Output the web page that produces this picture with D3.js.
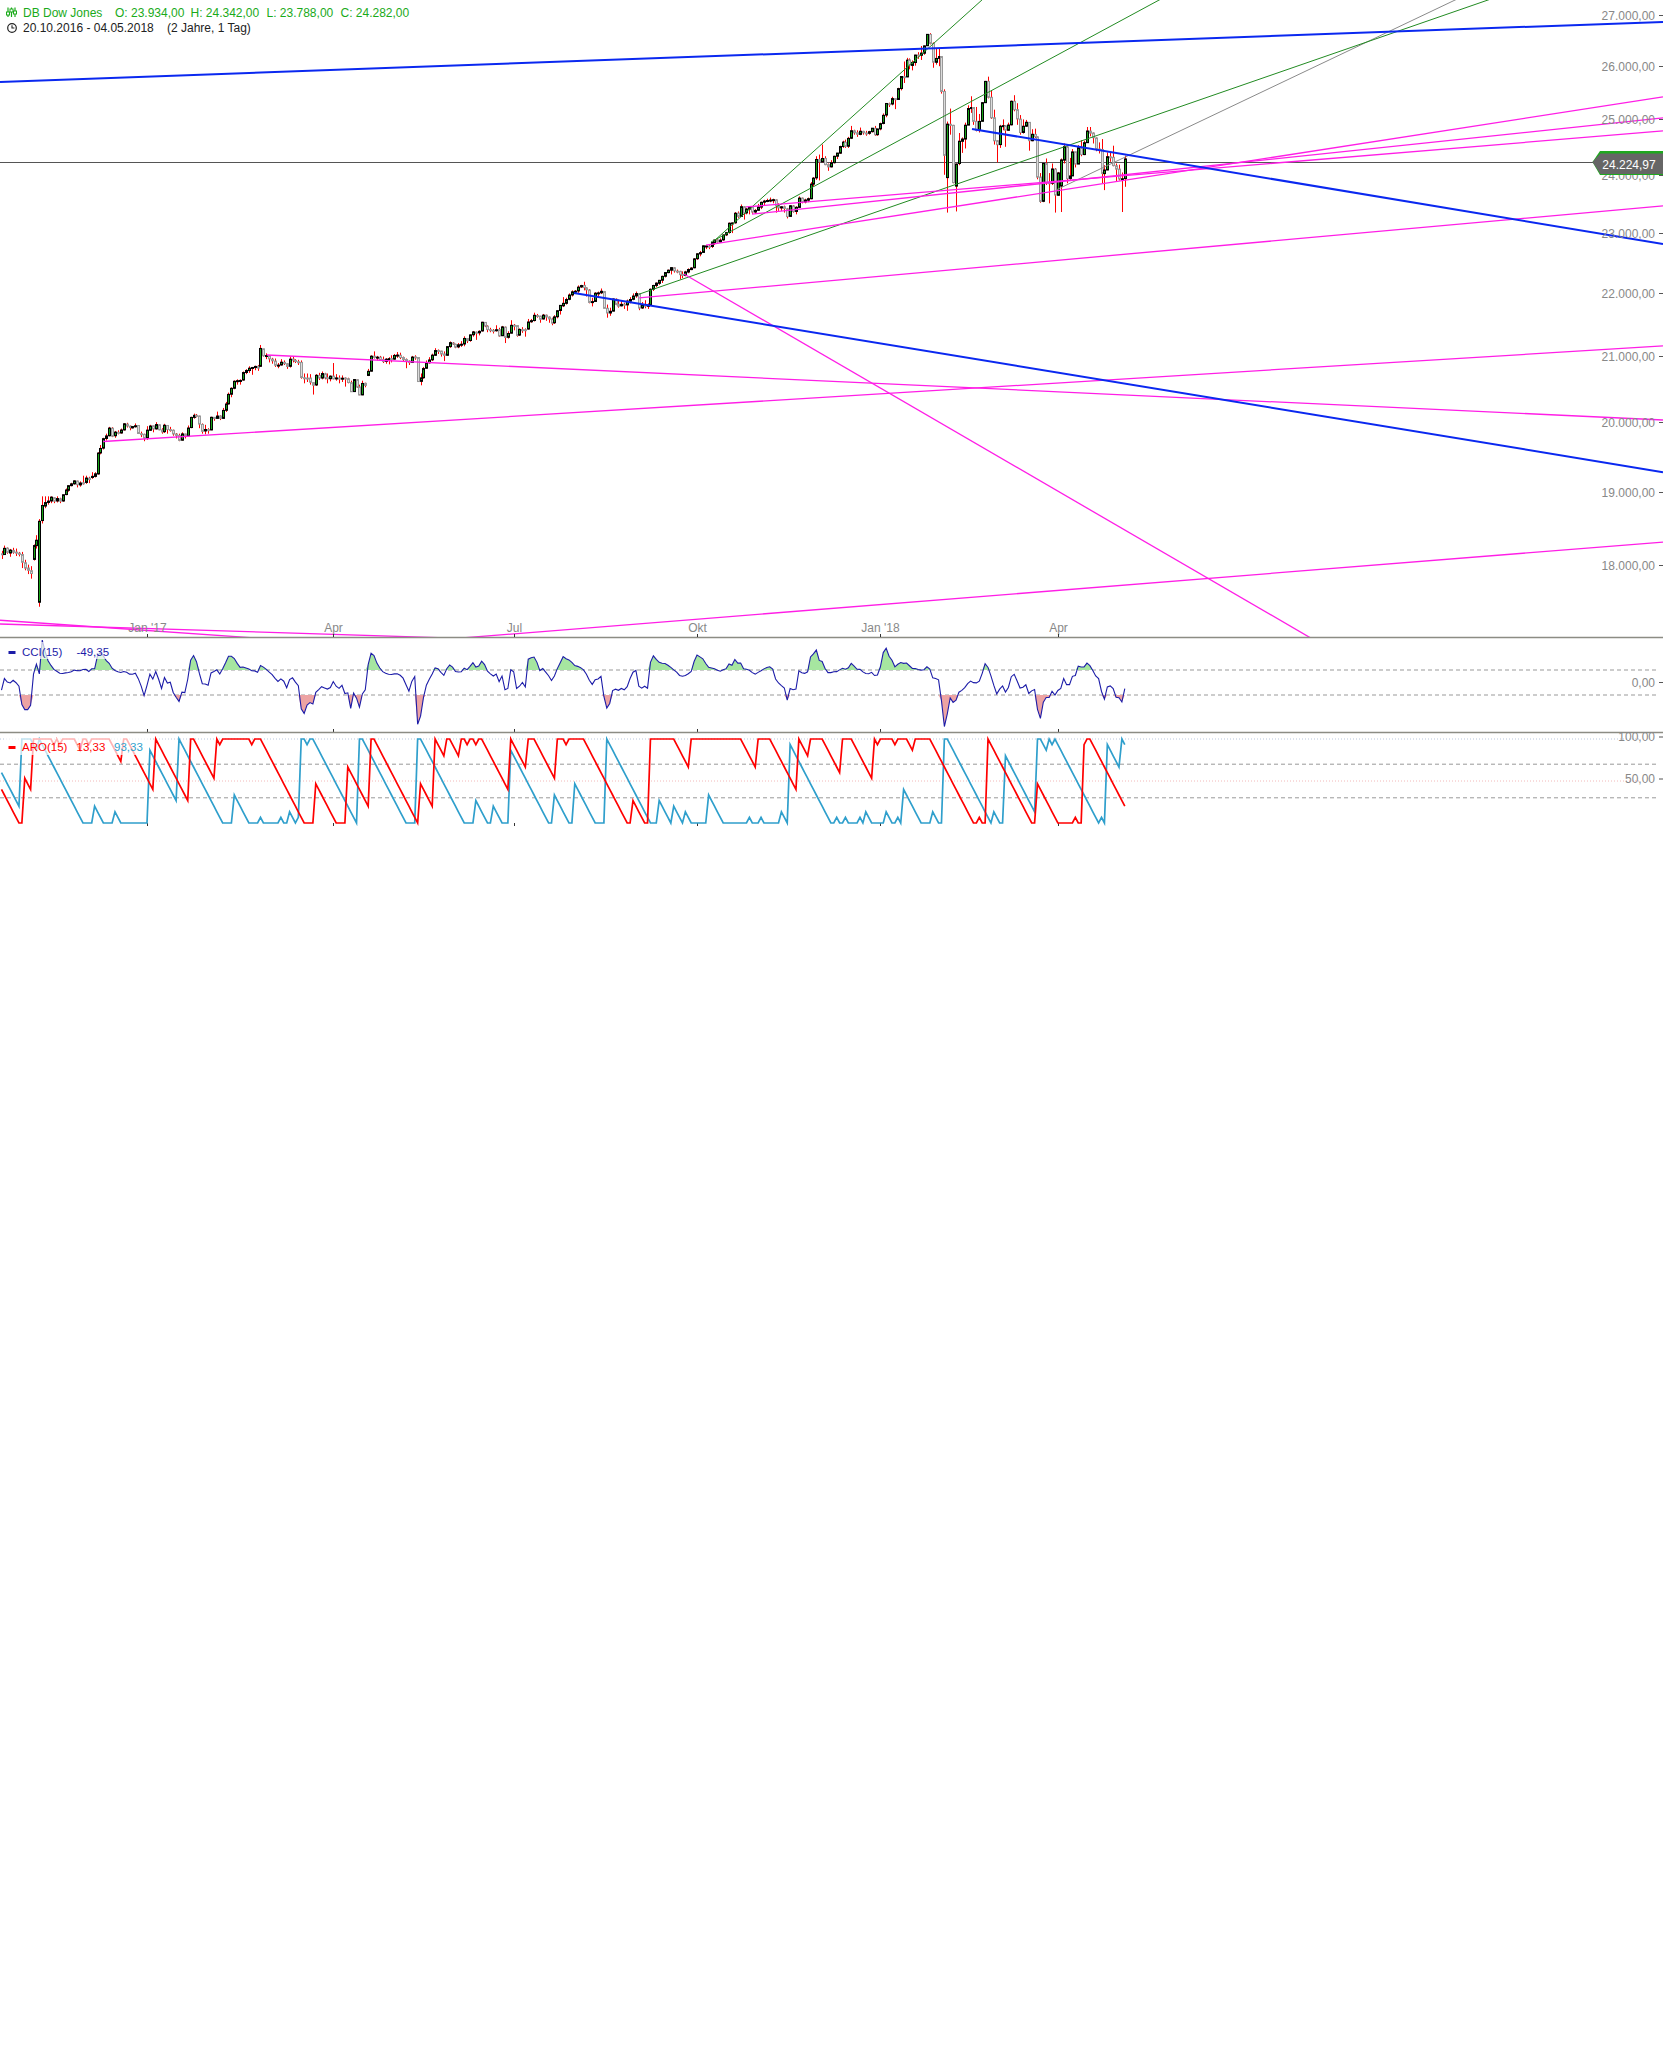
<!DOCTYPE html>
<html>
<head>
<meta charset="utf-8">
<script src="https://cdn.jsdelivr.net/npm/d3@7"></script>
<style>
body { margin: 0; background: #fff; }
svg { display: block; font-family: "Liberation Sans", Arial, sans-serif; }
</style>
</head>
<body>
<svg id="chart" width="1663" height="2048"></svg>
<script>
// DB Dow Jones, daily candles 21.10.2016 - 04.05.2018
var open = [
  18150,18140,18225,18160,18195,18172,18158,
  18140,18030,17960,17925,18075,18259,17513,18600,18800,18850,18870,18915,18870,18900,18870,18960,19020,19085,19110,19150,19095,19125,
  19130,19190,19200,19215,19250,19550,19620,19760,19800,19910,19800,19850,19840,19885,19970,19940,19915,19940,19950,19830,19820,
  19770,19880,19945,19900,19960,19885,19860,19950,19890,19880,19825,19805,19735,19825,19800,19920,20070,20100,20090,19965,
  19870,19890,19885,20070,20055,20090,20055,20175,20270,20415,20505,20610,20620,20630,20745,20775,20810,20820,20840,
  20840,21110,21000,21000,20950,20920,20855,20860,20900,20880,20840,20950,20930,20910,20900,20665,20660,20660,20590,20555,20700,20660,20725,
  20665,20650,20690,20650,20660,20655,20660,20650,20590,20455,20635,20525,20405,20580,20700,20765,20995,20975,20980,
  20945,20915,20950,20960,20950,21005,21010,20975,20945,20920,20900,20985,20975,20610,20665,20810,20895,20940,21010,21085,21075,21030,
  21010,21145,21200,21180,21140,21175,21185,21270,21240,21330,21370,21360,21390,21525,21465,21410,21400,21395,21410,21315,21450,21290,
  21355,21480,21475,21325,21410,21410,21420,21535,21555,21635,21625,21580,21640,21610,21580,21520,21615,21715,21790,21830,
  21895,21965,22015,22030,22095,22120,22080,22045,21845,21860,21995,22000,22020,21750,21675,21705,21895,21815,21790,21815,21805,21865,21895,
  21950,21985,21755,21810,21785,21800,22060,22120,22155,22205,22270,22330,22370,22410,22355,22350,22300,22285,22340,22380,
  22410,22560,22640,22665,22770,22770,22765,22830,22875,22840,22875,22960,23000,23150,23165,23330,23275,23440,23335,23400,23435,23350,
  23380,23435,23520,23540,23550,23560,23560,23460,23420,23440,23405,23275,23455,23360,23430,23590,23525,23555,23580,23835,23945,
  24270,24230,24290,24180,24140,24215,24330,24385,24505,24580,24510,24655,24790,24755,24725,24780,24750,24745,24775,24835,
  24720,24825,24925,25080,25290,25285,25385,25370,25575,25800,25795,26120,26015,26070,26215,26210,26250,26395,26615,26440,26075,
  26150,26185,25520,23950,24910,24890,23800,24200,24600,24640,24895,25200,25220,24965,24800,24965,25310,25710,25410,
  25030,24610,24540,24880,24880,24800,24900,25335,25180,25005,24760,24875,24945,24610,24725,24680,23960,23535,24200,23860,23850,
  24100,23640,23800,24260,24500,23935,23980,24410,24190,24480,24360,24575,24785,24750,24660,24460,24450,24020,24085,24320,24310,
  24160,24100,23925,23934
];
var high = [
  18190,18260,18235,18215,18230,18220,18175,
  18175,18070,18005,17985,18275,18400,18620,18935,18935,18935,18935,18920,18935,18915,18960,19045,19090,19125,19160,19155,19145,19225,
  19225,19210,19275,19275,19560,19665,19770,19830,19930,19925,19870,19880,19905,19985,19990,19950,19940,19980,19955,19860,19830,
  19940,19960,19950,19999,19965,19910,19975,19955,19930,19890,19840,19830,19850,19830,19950,20080,20125,20120,20095,19980,
  19960,19910,20080,20075,20155,20100,20210,20300,20440,20520,20625,20640,20640,20760,20795,20840,20830,20850,20860,
  21170,21110,21040,21010,20970,20960,20890,20950,20930,20890,20990,20990,20950,20940,20930,20730,20730,20720,20600,20720,20740,20760,20740,
  20730,20700,20890,20720,20700,20700,20670,20665,20620,20645,20640,20560,20620,20590,20800,21010,21070,21000,21000,
  20990,20965,20980,21010,21030,21060,21050,20990,20960,20930,21000,21010,20980,20730,20830,20930,20980,21035,21120,21100,21080,21070,
  21150,21225,21215,21190,21200,21230,21305,21275,21335,21390,21380,21400,21535,21530,21480,21440,21420,21480,21440,21470,21460,21385,
  21560,21500,21480,21430,21450,21430,21580,21580,21680,21660,21630,21660,21650,21620,21600,21640,21720,21800,21930,21920,
  21990,22040,22045,22120,22130,22180,22090,22060,21920,22010,22020,22070,22030,21810,21760,21910,21910,21890,21880,21840,21890,21930,21990,
  22020,21990,21850,21880,21830,22070,22130,22170,22210,22280,22340,22380,22420,22420,22380,22360,22350,22360,22400,22420,
  22570,22650,22690,22780,22790,22800,22840,22880,22900,22900,22970,23010,23170,23170,23350,23360,23480,23450,23420,23450,23450,23400,
  23490,23530,23560,23580,23600,23580,23570,23500,23450,23460,23420,23470,23470,23450,23620,23600,23580,23600,23870,23960,24330,
  24360,24540,24330,24200,24260,24340,24390,24520,24610,24630,24680,24880,24810,24800,24850,24790,24790,24790,24840,24880,
  24830,24940,25110,25300,25310,25420,25390,25590,25810,26090,26160,26150,26110,26220,26270,26390,26400,26620,26640,26460,26340,
  26340,26190,25560,24960,25200,24900,24200,24750,24670,24940,25260,25430,25220,25230,25100,25320,25720,25800,25530,
  25180,24620,24900,25000,24890,24940,25350,25450,25300,25080,25000,24990,24950,24820,24830,24690,24030,24210,24290,24030,24200,
  24120,24050,24290,24560,24520,24300,24460,24410,24530,24620,24610,24860,24860,24760,24670,24580,24640,24170,24400,24400,24520,
  24200,24180,24040,24342
];
var low = [
  18080,18135,18150,18110,18150,18120,18115,
  17960,17930,17880,17820,18060,18220,17455,18560,18770,18820,18840,18840,18850,18840,18860,18950,19000,19075,19100,19060,19070,19100,
  19110,19120,19180,19200,19240,19530,19600,19730,19790,19780,19770,19820,19830,19875,19920,19880,19905,19920,19825,19780,19720,
  19740,19870,19850,19890,19880,19830,19840,19830,19860,19800,19760,19720,19730,19760,19790,19910,20050,20070,19910,19830,
  19820,19830,19880,20020,20050,20030,20050,20150,20260,20370,20490,20560,20560,20620,20720,20740,20710,20780,20770,
  20830,20990,20950,20900,20880,20830,20810,20850,20860,20800,20820,20900,20890,20860,20650,20580,20600,20560,20410,20540,20630,20640,20640,
  20580,20610,20640,20620,20580,20600,20530,20580,20450,20450,20510,20400,20400,20520,20690,20760,20960,20930,20930,
  20890,20880,20870,20900,20940,20970,20950,20920,20810,20860,20890,20940,20600,20550,20650,20800,20880,20920,21000,21030,20990,20920,
  21000,21125,21170,21120,21120,21140,21150,21200,21220,21300,21250,21320,21380,21450,21370,21370,21350,21380,21300,21310,21200,21270,
  21350,21400,21300,21310,21360,21300,21410,21520,21540,21600,21520,21570,21550,21520,21480,21500,21590,21650,21770,21810,
  21880,21940,21980,22000,22080,22040,21940,21830,21780,21860,21930,21980,21750,21600,21630,21700,21800,21760,21780,21740,21710,21830,21880,
  21920,21720,21740,21750,21740,21790,22030,22090,22130,22160,22250,22320,22300,22330,22320,22220,22240,22270,22320,22370,
  22400,22540,22600,22660,22720,22720,22740,22790,22830,22830,22860,22940,22980,22990,23150,23250,23270,23220,23310,23310,23320,23320,
  23370,23400,23470,23520,23520,23500,23340,23370,23370,23340,23240,23270,23340,23310,23420,23500,23500,23520,23570,23790,23910,
  23900,24220,24170,24070,24130,24200,24280,24370,24480,24480,24480,24640,24720,24680,24710,24720,24700,24720,24760,24700,
  24700,24800,24910,25040,25230,25260,25190,25360,25540,25680,25790,25940,25920,26010,26140,26120,26220,26390,26420,25970,26030,
  26000,25480,24000,23340,24720,23850,23360,24170,24390,24470,24900,25120,24900,24780,24760,24970,25310,25390,25010,
  24540,24220,24480,24800,24500,24790,24890,25150,24900,24720,24740,24860,24430,24600,24660,23920,23510,23520,23820,23500,23820,
  23340,23630,23350,24200,23850,23900,23980,24130,24190,24330,24350,24570,24690,24560,24420,24380,23850,23730,24080,24230,24150,
  23880,23900,23350,23788
];
var close = [
  18145,18223,18169,18199,18170,18161,18142,
  18037,17959,17930,17888,18260,18332,18590,18808,18848,18869,18924,18868,18904,18868,18957,19024,19084,19110,19152,19098,19122,19124,
  19192,19171,19216,19252,19549,19615,19757,19797,19912,19793,19853,19843,19884,19975,19942,19919,19934,19946,19833,19819,19763,
  19882,19942,19899,19964,19887,19855,19954,19891,19886,19826,19804,19732,19827,19799,19913,20069,20100,20094,19971,19864,
  19891,19884,20071,20052,20090,20054,20173,20269,20413,20504,20611,20620,20624,20744,20776,20811,20822,20838,20812,
  21116,21003,21006,20955,20925,20856,20858,20903,20881,20837,20950,20935,20914,20906,20669,20661,20656,20597,20551,20702,20660,20729,20663,
  20650,20689,20648,20662,20656,20658,20651,20592,20453,20637,20523,20404,20578,20548,20763,20996,20976,20981,20941,
  20913,20950,20958,20951,21007,21013,20975,20943,20919,20897,20982,20980,20607,20663,20805,20895,20937,21012,21083,21080,21029,21009,
  21144,21206,21184,21136,21173,21182,21272,21236,21328,21375,21360,21384,21528,21468,21411,21397,21395,21409,21311,21454,21288,21350,
  21479,21478,21320,21414,21409,21409,21532,21553,21638,21630,21575,21641,21611,21580,21513,21613,21711,21797,21830,21891,
  21964,22016,22026,22092,22118,22085,22049,21844,21858,21994,21999,22025,21750,21675,21703,21899,21813,21784,21814,21808,21865,21892,21948,
  21988,21754,21808,21784,21798,22057,22119,22158,22203,22268,22331,22370,22412,22359,22350,22297,22284,22341,22381,22405,
  22557,22642,22661,22775,22773,22761,22831,22872,22841,22871,22957,22997,23158,23163,23329,23274,23442,23330,23401,23434,23349,23377,
  23436,23517,23539,23549,23557,23563,23462,23422,23440,23410,23272,23458,23358,23431,23591,23526,23558,23580,23836,23940,24272,
  24232,24290,24180,24140,24212,24329,24387,24505,24585,24509,24652,24792,24754,24727,24783,24754,24746,24775,24838,24719,
  24824,24922,25075,25295,25283,25386,25369,25574,25803,25792,26116,26017,26072,26214,26211,26252,26392,26617,26440,26077,26149,
  26186,25521,24346,24913,24893,23861,24191,24601,24641,24893,25201,25220,24965,24798,24963,25310,25710,25410,25029,
  24609,24538,24875,24885,24802,24896,25336,25179,25008,24759,24874,24947,24611,24727,24683,23958,23533,24202,23857,23849,24103,
  23644,24033,24264,24505,23933,23979,24408,24190,24484,24360,24574,24787,24748,24665,24463,24449,24024,24084,24322,24311,24163,
  24100,23925,23930,24282
];
// 15 days before the window, needed to start CCI(15) and ARO(15)
var warmHigh  = [18340,18310,18290,18300,18290,18310,18400,18330,18170,18130,18250,18140,18240,18230,18230];
var warmLow   = [18120,18210,18120,18170,18190,18160,18230,18100,18080,17960,18090,18060,18080,18130,18100];
var warmClose = [18308,18254,18168,18281,18269,18240,18329,18129,18144,18099,18138,18087,18162,18203,18162];

var lastQuote = 24224.97;
var cciLast = -49.35, aroUpLast = 13.33, aroDownLast = 93.33;

var priceTicks = [18000,19000,20000,21000,22000,23000,24000,25000,26000,27000];
var monthIdx = [50, 114, 176, 239, 302, 363];
var monthLabels = ["Jan '17", "Apr", "Jul", "Okt", "Jan '18", "Apr"];

// drawn trend lines: [day1, price1, day2, price2, extension]
var trendBlue  = [[0,25702,570,26861,'full'], [196.7,21997,570.6,19278,'ray'], [333.5,24824,570.6,22807,'ray']];
var trendPink  = [[34.9,19716,570.6,21155,'ray'], [91.2,21014,570.6,20032,'ray'], [205.3,17196,570.6,18306,'full'],
                  [234.5,22308,449.3,17070,'ray'], [219.1,21917,570.6,23455,'ray'], [242.1,22788,570.6,25415,'ray'],
                  [255.8,23437,570.6,24787,'ray'], [257.9,23314,570.6,25026,'ray'],
                  [0,17281,82.3,17070,'full'], [0,17234,142.8,17070,'full']];
var trendGreen = [[245.2,22872,336.9,27300,'ray'], [243.8,22839,397.8,27300,'ray'], [219.1,21978,510.8,27300,'ray']];
var trendGray  = [[362.4,23733,499.5,27300,'ray']];

var W = 1663;
var svg = d3.select('#chart');
svg.append('rect').attr('width', W).attr('height', 2048).attr('fill', '#fff');

var de = d3.formatLocale({decimal: ',', thousands: '.', grouping: [3], currency: ['', ''], minus: '-'});
var fmt = de.format(',.2f');

var n = close.length;
var days = d3.range(n);
var x = d3.scaleLinear().domain([0, 386]).range([1.5, 1124.8]);
var y = d3.scaleLog().domain([17070, 27300]).range([637, 0]);
var cy = d3.scaleLinear().domain([-100, 100]).range([695, 670]);
var ay = d3.scaleLinear().domain([0, 100]).range([823, 739]);

// ---------- indicators
var allH = warmHigh.concat(high), allL = warmLow.concat(low), allC = warmClose.concat(close);
var off = warmClose.length;
var cci = days.map(function (i) {
  var k = i + off, tp = [];
  for (var j = k - 14; j <= k; j++) tp.push((allH[j] + allL[j] + allC[j]) / 3);
  var m = d3.mean(tp);
  var md = d3.mean(tp, function (t) { return Math.abs(t - m); });
  return {i: i, v: (tp[14] - m) / (0.015 * md)};
});
var aro = days.map(function (i) {
  var k = i + off, hi = -Infinity, lo = Infinity, hiAt = k, loAt = k;
  for (var j = k - 15; j <= k; j++) {
    if (j < 0) continue;
    if (allH[j] >= hi) { hi = allH[j]; hiAt = j; }
    if (allL[j] <= lo) { lo = allL[j]; loAt = j; }
  }
  return {i: i, up: (15 - (k - hiAt)) / 15 * 100, down: (15 - (k - loAt)) / 15 * 100};
});

// ---------- header
var head = svg.append('g');
[8, 11.5, 15].forEach(function (cx, k) {
  head.append('line').attr('x1', cx).attr('x2', cx).attr('y1', 7.5).attr('y2', 17)
    .attr('stroke', '#1aaa1a').attr('stroke-width', 1.2);
  head.append('rect').attr('x', cx - 1.5).attr('y', [12, 9, 11][k]).attr('width', 3).attr('height', 3)
    .attr('fill', '#fff').attr('stroke', '#1aaa1a').attr('stroke-width', 1);
});
var last = n - 1;
head.append('text').attr('x', 23).attr('y', 16.5).attr('fill', '#1aaa1a').attr('font-size', 12).text('DB Dow Jones');
[['O: ', open[last], 115], ['H: ', high[last], 190.5], ['L: ', low[last], 266.5], ['C: ', close[last], 340.5]].forEach(function (d) {
  head.append('text').attr('x', d[2]).attr('y', 16.5).attr('fill', '#1aaa1a').attr('font-size', 12).text(d[0] + fmt(d[1]));
});
head.append('circle').attr('cx', 12).attr('cy', 28).attr('r', 4.3).attr('fill', 'none').attr('stroke', '#222').attr('stroke-width', 1.2);
head.append('path').attr('d', 'M12,25.2V28H14.4').attr('fill', 'none').attr('stroke', '#222').attr('stroke-width', 1.1);
head.append('text').attr('x', 23).attr('y', 32.3).attr('fill', '#222').attr('font-size', 12).text('20.10.2016 - 04.05.2018');
head.append('text').attr('x', 167).attr('y', 32.3).attr('fill', '#222').attr('font-size', 12).text('(2 Jahre, 1 Tag)');

// ---------- main panel
var main = svg.append('g');
main.append('clipPath').attr('id', 'mainClip').append('rect').attr('x', 0).attr('y', 0).attr('width', W).attr('height', 637);

var qy = Math.round(y(lastQuote)) + 0.5;
main.append('line').attr('x1', 0).attr('x2', 1593).attr('y1', qy).attr('y2', qy).attr('stroke', '#555').attr('stroke-width', 1);

var candles = main.append('g');
candles.selectAll('line').data(days).join('line')
  .attr('x1', function (i) { return Math.round(x(i)) + 0.5; })
  .attr('x2', function (i) { return Math.round(x(i)) + 0.5; })
  .attr('y1', function (i) { return y(Math.max(high[i], open[i], close[i])); })
  .attr('y2', function (i) { return y(Math.min(low[i], open[i], close[i])); })
  .attr('stroke', '#ff0000').attr('stroke-width', 1);
candles.selectAll('rect').data(days).join('rect')
  .attr('x', function (i) { return Math.round(x(i)) - 0.5; })
  .attr('y', function (i) { return Math.min(y(open[i]), y(close[i])); })
  .attr('width', 2)
  .attr('height', function (i) { return Math.max(1, Math.abs(y(open[i]) - y(close[i]))); })
  .attr('fill', function (i) { return close[i] >= open[i] ? '#17a317' : '#dcdcdc'; })
  .attr('stroke', function (i) { return close[i] >= open[i] ? '#000' : '#999'; })
  .attr('stroke-width', 1);

var trends = main.append('g').attr('clip-path', 'url(#mainClip)');
function drawTrend(list, color, width) {
  list.forEach(function (t) {
    var x1 = x(t[0]), y1 = y(t[1]), x2 = x(t[2]), y2 = y(t[3]);
    var s = (y2 - y1) / (x2 - x1);
    var xa = t[4] === 'full' ? 0 : x1;
    trends.append('line')
      .attr('x1', xa).attr('y1', y1 + s * (xa - x1))
      .attr('x2', W).attr('y2', y1 + s * (W - x1))
      .attr('stroke', color).attr('stroke-width', width);
  });
}
drawTrend(trendGray, '#8a8a8a', 1);
drawTrend(trendGreen, '#228b22', 1);
drawTrend(trendPink, '#ff1ee6', 1.3);
drawTrend(trendBlue, '#0a28f0', 2);

// price axis
priceTicks.forEach(function (v) {
  var py = Math.round(y(v)) + 0.5;
  main.append('text').attr('x', 1655).attr('y', py + 4).attr('text-anchor', 'end')
    .attr('fill', '#888').attr('font-size', 12).text(fmt(v));
  main.append('line').attr('x1', 1659).attr('x2', 1663).attr('y1', py).attr('y2', py).attr('stroke', '#555');
});

// last quote tag
main.append('path').attr('d', 'M1592.5,' + (qy - 0.5) + 'L1600,151H1663V175H1600Z').attr('fill', '#1fa81f');
main.append('path').attr('d', 'M1592.5,' + (qy - 0.5) + 'L1600.5,153.5H1663V174H1600.5Z').attr('fill', '#666');
main.append('text').attr('x', 1629).attr('y', 168.5).attr('text-anchor', 'middle')
  .attr('fill', '#fff').attr('font-size', 12).text(fmt(lastQuote));

// time axis
main.append('line').attr('x1', 0).attr('x2', W).attr('y1', 637.5).attr('y2', 637.5).attr('stroke', '#8c8c84').attr('stroke-width', 1.3);
monthIdx.forEach(function (mi, k) {
  var tx = Math.round(x(mi)) + 0.5;
  main.append('text').attr('x', tx).attr('y', 632).attr('text-anchor', 'middle')
    .attr('fill', '#888').attr('font-size', 12).text(monthLabels[k]);
  [637, 732, 826].forEach(function (by) {
    main.append('line').attr('x1', tx).attr('x2', tx).attr('y1', by - 3).attr('y2', by).attr('stroke', '#333');
  });
});

// ---------- CCI panel
var cg = svg.append('g');
[-100, 100].forEach(function (v) {
  cg.append('line').attr('x1', 0).attr('x2', 1658).attr('y1', cy(v)).attr('y2', cy(v))
    .attr('stroke', '#999').attr('stroke-dasharray', '4,3');
});
cg.append('path').datum(cci)
  .attr('d', d3.area().x(function (d) { return x(d.i); }).y0(cy(100)).y1(function (d) { return cy(Math.max(d.v, 100)); }))
  .attr('fill', '#a6e6a0');
cg.append('path').datum(cci)
  .attr('d', d3.area().x(function (d) { return x(d.i); }).y0(cy(-100)).y1(function (d) { return cy(Math.min(d.v, -100)); }))
  .attr('fill', '#eda3a3');
cg.append('path').datum(cci)
  .attr('d', d3.line().x(function (d) { return x(d.i); }).y(function (d) { return cy(d.v); }))
  .attr('fill', 'none').attr('stroke', '#1c1ca8').attr('stroke-width', 1.1);
cg.append('text').attr('x', 1655).attr('y', cy(0) + 4).attr('text-anchor', 'end').attr('fill', '#888').attr('font-size', 12).text(fmt(0));
cg.append('line').attr('x1', 1659).attr('x2', 1663).attr('y1', cy(0)).attr('y2', cy(0)).attr('stroke', '#555');
cg.append('rect').attr('x', 4).attr('y', 642).attr('width', 108).attr('height', 17).attr('fill', '#fff').attr('opacity', 0.7);
cg.append('rect').attr('x', 8.5).attr('y', 651).attr('width', 7).attr('height', 3).attr('fill', '#1c1ca8');
cg.append('text').attr('x', 22).attr('y', 656).attr('fill', '#1c1ca8').attr('font-size', 11.5).text('CCI(15)');
cg.append('text').attr('x', 76.5).attr('y', 656).attr('fill', '#1c1ca8').attr('font-size', 11.5).text(fmt(cciLast));
cg.append('line').attr('x1', 0).attr('x2', W).attr('y1', 732.5).attr('y2', 732.5).attr('stroke', '#8c8c84').attr('stroke-width', 1.3);

// ---------- Aroon panel
var ag = svg.append('g');
ag.append('line').attr('x1', 0).attr('x2', 1640).attr('y1', ay(100)).attr('y2', ay(100))
  .attr('stroke', '#b8c6dd').attr('stroke-dasharray', '1,2');
ag.append('line').attr('x1', 0).attr('x2', 1640).attr('y1', ay(50)).attr('y2', ay(50))
  .attr('stroke', '#f2b8b8').attr('stroke-dasharray', '1,2');
[30, 70].forEach(function (v) {
  ag.append('line').attr('x1', 0).attr('x2', 1658).attr('y1', ay(v)).attr('y2', ay(v))
    .attr('stroke', '#999').attr('stroke-dasharray', '4,3');
});
ag.append('path').datum(aro)
  .attr('d', d3.line().x(function (d) { return x(d.i); }).y(function (d) { return ay(d.down); }))
  .attr('fill', 'none').attr('stroke', '#2f9fcc').attr('stroke-width', 1.7);
ag.append('path').datum(aro)
  .attr('d', d3.line().x(function (d) { return x(d.i); }).y(function (d) { return ay(d.up); }))
  .attr('fill', 'none').attr('stroke', '#ff0000').attr('stroke-width', 1.7);
[100, 50].forEach(function (v) {
  ag.append('text').attr('x', 1655).attr('y', ay(v) + 2).attr('text-anchor', 'end').attr('fill', '#888').attr('font-size', 12).text(fmt(v));
  ag.append('line').attr('x1', 1659).attr('x2', 1663).attr('y1', ay(v) - 2).attr('y2', ay(v) - 2).attr('stroke', '#555');
});
ag.append('rect').attr('x', 4).attr('y', 738).attr('width', 144).attr('height', 17).attr('fill', '#fff').attr('opacity', 0.7);
ag.append('rect').attr('x', 8.5).attr('y', 746).attr('width', 7).attr('height', 3).attr('fill', '#ff0000');
ag.append('text').attr('x', 22).attr('y', 751).attr('fill', '#ff0000').attr('font-size', 11.5).text('ARO(15)');
ag.append('text').attr('x', 76.5).attr('y', 751).attr('fill', '#ff0000').attr('font-size', 11.5).text(fmt(aroUpLast));
ag.append('text').attr('x', 114).attr('y', 751).attr('fill', '#2f9fcc').attr('font-size', 11.5).text(fmt(aroDownLast));
</script>
</body>
</html>
